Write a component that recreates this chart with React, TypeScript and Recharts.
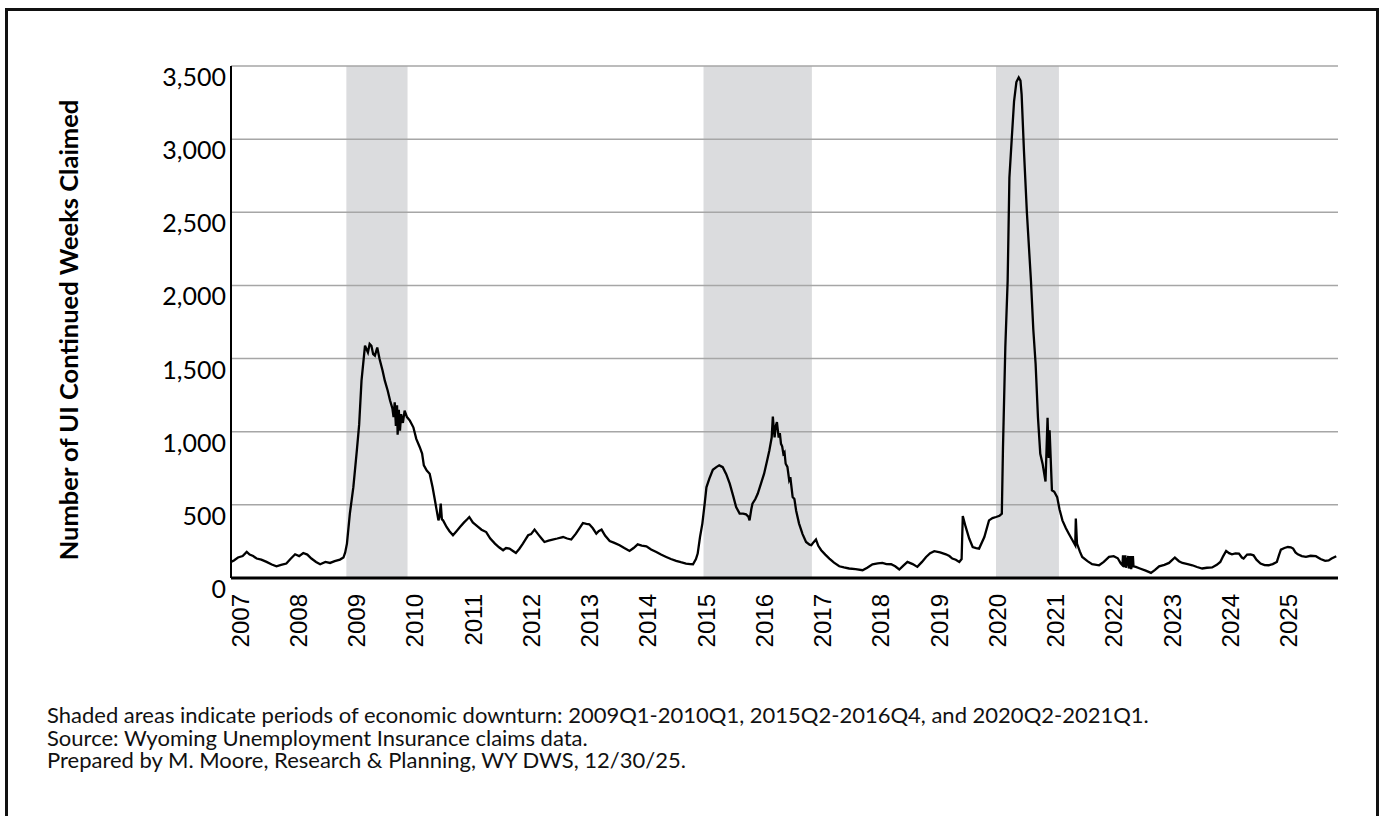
import React from "react";
import {
  LineChart,
  Line,
  XAxis,
  YAxis,
  ReferenceArea,
  ReferenceLine,
} from "recharts";

// [decimal year, continued weeks claimed]
const claims2007to2010: [number, number][] = [
  [2007.0, 110], [2007.05, 120], [2007.12, 140], [2007.2, 150], [2007.27, 178],
  [2007.32, 160], [2007.38, 150], [2007.44, 133], [2007.52, 125], [2007.61, 110],
  [2007.7, 92], [2007.78, 80], [2007.86, 90], [2007.95, 99], [2008.02, 130],
  [2008.1, 162], [2008.17, 150], [2008.24, 171], [2008.31, 160], [2008.38, 133],
  [2008.46, 110], [2008.53, 94], [2008.62, 110], [2008.7, 103], [2008.78, 115],
  [2008.87, 126], [2008.93, 140], [2008.96, 175], [2008.99, 235], [2009.04, 440],
  [2009.1, 621], [2009.16, 872], [2009.2, 1050], [2009.24, 1349], [2009.3, 1588],
  [2009.33, 1560], [2009.35, 1542], [2009.38, 1600], [2009.41, 1588], [2009.44, 1530],
  [2009.47, 1520], [2009.51, 1576], [2009.55, 1497], [2009.6, 1420], [2009.64, 1349],
  [2009.69, 1280], [2009.73, 1213], [2009.77, 1160], [2009.79, 1100], [2009.81, 1201],
  [2009.83, 1040], [2009.85, 1180], [2009.86, 980], [2009.88, 1150], [2009.9, 1008],
  [2009.92, 1120], [2009.95, 1060], [2009.98, 1144], [2010.02, 1100], [2010.07, 1076],
  [2010.13, 1030], [2010.18, 951], [2010.24, 894], [2010.28, 850], [2010.31, 770],
  [2010.36, 735], [2010.41, 713], [2010.46, 620], [2010.5, 531], [2010.54, 440],
  [2010.56, 394], [2010.58, 420], [2010.6, 508], [2010.62, 400], [2010.64, 394],
  [2010.7, 349], [2010.75, 320], [2010.81, 292], [2010.87, 320], [2010.93, 349],
];

const claims2011to2014: [number, number][] = [
  [2011.0, 380], [2011.05, 400], [2011.09, 417], [2011.15, 380], [2011.21, 360],
  [2011.3, 330], [2011.38, 314], [2011.45, 270], [2011.53, 235], [2011.6, 210],
  [2011.67, 190], [2011.72, 205], [2011.78, 201], [2011.84, 185], [2011.89, 171],
  [2011.95, 200], [2012.01, 235], [2012.05, 260], [2012.1, 292], [2012.15, 300],
  [2012.21, 331], [2012.28, 295], [2012.33, 270], [2012.38, 246], [2012.45, 255],
  [2012.52, 263], [2012.6, 270], [2012.7, 280], [2012.77, 270], [2012.84, 263],
  [2012.92, 303], [2012.98, 340], [2013.04, 376], [2013.1, 370], [2013.15, 367],
  [2013.21, 340], [2013.27, 303], [2013.31, 320], [2013.36, 331], [2013.42, 290],
  [2013.5, 253], [2013.58, 240], [2013.67, 224], [2013.75, 205], [2013.84, 185],
  [2013.91, 205], [2013.98, 230], [2014.05, 222], [2014.13, 217], [2014.21, 195],
  [2014.3, 178], [2014.38, 160], [2014.47, 144], [2014.55, 130], [2014.64, 117],
  [2014.72, 108], [2014.81, 99], [2014.88, 95], [2014.93, 94], [2014.98, 130],
];

const claims2015to2018: [number, number][] = [
  [2015.01, 167], [2015.05, 280], [2015.09, 372], [2015.13, 508], [2015.16, 620],
  [2015.21, 679], [2015.27, 740], [2015.33, 758], [2015.38, 770], [2015.44, 758],
  [2015.5, 710], [2015.56, 645], [2015.62, 560], [2015.67, 485], [2015.73, 440],
  [2015.79, 440], [2015.84, 435], [2015.88, 420], [2015.9, 394], [2015.93, 470],
  [2015.95, 508], [2016.0, 540], [2016.04, 576], [2016.1, 650], [2016.15, 713],
  [2016.2, 800], [2016.24, 872], [2016.28, 960], [2016.3, 1103], [2016.32, 1000],
  [2016.33, 962], [2016.35, 1040], [2016.37, 1065], [2016.4, 960], [2016.42, 990],
  [2016.44, 917], [2016.46, 900], [2016.48, 850], [2016.5, 860], [2016.52, 781],
  [2016.55, 760], [2016.58, 670], [2016.6, 690], [2016.64, 553], [2016.67, 540],
  [2016.7, 460], [2016.75, 372], [2016.81, 300], [2016.87, 246], [2016.93, 228],
  [2016.96, 224], [2017.0, 245], [2017.04, 263], [2017.08, 220], [2017.13, 190],
  [2017.2, 160], [2017.27, 133], [2017.35, 105], [2017.44, 80], [2017.52, 72],
  [2017.61, 65], [2017.72, 60], [2017.84, 53], [2017.92, 70], [2018.01, 94],
  [2018.1, 100], [2018.18, 103], [2018.25, 95], [2018.33, 94], [2018.4, 80],
  [2018.47, 58], [2018.54, 85], [2018.61, 110], [2018.7, 95], [2018.78, 76],
  [2018.86, 110], [2018.93, 144],
];

const claims2019to2021: [number, number][] = [
  [2019.0, 170], [2019.07, 183], [2019.17, 175], [2019.27, 162], [2019.33, 150],
  [2019.38, 133], [2019.44, 125], [2019.5, 110], [2019.54, 130], [2019.56, 424],
  [2019.61, 349], [2019.67, 270], [2019.73, 212], [2019.79, 205], [2019.84, 201],
  [2019.93, 280], [2020.01, 394], [2020.07, 410], [2020.13, 417], [2020.19, 425],
  [2020.23, 440], [2020.25, 894], [2020.29, 1576], [2020.33, 2031], [2020.36, 2736],
  [2020.4, 3000], [2020.44, 3259], [2020.48, 3390], [2020.52, 3422], [2020.55, 3400],
  [2020.57, 3304], [2020.61, 2918], [2020.66, 2500], [2020.73, 2031], [2020.77, 1700],
  [2020.81, 1463], [2020.85, 1100], [2020.89, 849], [2020.93, 780], [2020.98, 660],
  [2021.015, 1095], [2021.035, 820], [2021.05, 1010], [2021.09, 600], [2021.13, 590],
  [2021.18, 553], [2021.22, 470], [2021.27, 394], [2021.33, 340], [2021.38, 303],
  [2021.44, 260], [2021.49, 224], [2021.5, 406], [2021.52, 235], [2021.57, 180],
  [2021.61, 144], [2021.7, 115], [2021.78, 94], [2021.9, 87], [2021.98, 110],
];

const claims2022to2025: [number, number][] = [
  [2022.07, 144], [2022.15, 149], [2022.22, 135], [2022.27, 100], [2022.3, 87],
  [2022.31, 155], [2022.32, 75], [2022.35, 155], [2022.36, 70], [2022.4, 150],
  [2022.41, 65], [2022.44, 150], [2022.45, 60], [2022.48, 150], [2022.49, 80],
  [2022.53, 76], [2022.6, 65], [2022.7, 50], [2022.79, 35], [2022.86, 55],
  [2022.93, 80], [2023.02, 90], [2023.1, 103], [2023.2, 140], [2023.27, 115],
  [2023.33, 103], [2023.42, 95], [2023.5, 87], [2023.58, 75], [2023.67, 65],
  [2023.75, 70], [2023.84, 72], [2023.92, 90], [2023.98, 110], [2024.03, 150],
  [2024.08, 185], [2024.13, 170], [2024.18, 162], [2024.24, 168], [2024.3, 167],
  [2024.35, 140], [2024.38, 133], [2024.44, 160], [2024.5, 162], [2024.55, 155],
  [2024.6, 125], [2024.67, 99], [2024.74, 88], [2024.81, 87], [2024.88, 95],
  [2024.95, 110], [2024.99, 160], [2025.02, 194], [2025.08, 205], [2025.14, 212],
  [2025.19, 210], [2025.23, 201], [2025.27, 175], [2025.31, 162], [2025.38, 150],
  [2025.45, 144], [2025.53, 152], [2025.62, 149], [2025.7, 130], [2025.78, 117],
  [2025.84, 120], [2025.89, 133], [2025.97, 149],
];

// economic downturn shading (start, end) in decimal years
const downturns: [number, number][] = [
  [2008.98, 2010.03],
  [2015.11, 2016.97],
  [2020.13, 2021.21],
];

const yearTicks = [
  2007, 2008, 2009, 2010, 2011, 2012, 2013, 2014, 2015, 2016, 2017, 2018, 2019,
  2020, 2021, 2022, 2023, 2024, 2025,
];
const valueTicks = [0, 500, 1000, 1500, 2000, 2500, 3000, 3500];

const footnotes = [
  "Shaded areas indicate periods of economic downturn: 2009Q1-2010Q1, 2015Q2-2016Q4, and 2020Q2-2021Q1.",
  "Source: Wyoming Unemployment Insurance claims data.",
  "Prepared by M. Moore, Research & Planning, WY DWS, 12/30/25.",
];

const data = [
  ...claims2007to2010,
  ...claims2011to2014,
  ...claims2015to2018,
  ...claims2019to2021,
  ...claims2022to2025,
].map(([t, v]) => ({ t, v }));

const YearTick = (props: any) => {
  const { x, y, payload } = props;
  const cx = x + 9;
  const cy = y + 8;
  return (
    <text
      x={cx}
      y={cy}
      transform={`rotate(-90 ${cx} ${cy})`}
      textAnchor="end"
      dominantBaseline="central"
      fontFamily="'Liberation Sans', Arial, sans-serif"
      fontSize={24}
      fill="#000"
    >
      {payload.value}
    </text>
  );
};

const ValueTick = (props: any) => {
  const { x, y, payload } = props;
  return (
    <text
      x={x + 3}
      y={y + 10}
      textAnchor="end"
      dominantBaseline="central"
      fontFamily="Lato, sans-serif"
      fontSize={25}
      fill="#000"
    >
      {payload.value.toLocaleString("en-US")}
    </text>
  );
};

export default function App(): React.ReactElement {
  return (
    <div
      style={{
        position: "relative",
        width: 1380,
        height: 816,
        overflow: "hidden",
        background: "#fff",
      }}
    >
      <style>{"html,body{margin:0;padding:0;overflow:hidden;}"}</style>
      <div style={{ position: "absolute", left: 0, top: 0 }}>
        <LineChart
          width={1380}
          height={816}
          data={data}
          margin={{ top: 66, right: 42, left: 131, bottom: 158 }}
        >
          {downturns.map(([a, b]) => (
            <ReferenceArea
              key={a}
              x1={a}
              x2={b}
              y1={0}
              y2={3500}
              fill="#dbdcde"
              fillOpacity={1}
              stroke="none"
            />
          ))}
          {valueTicks.slice(1).map((v) => (
            <ReferenceLine key={v} y={v} stroke="#a6a6a6" strokeWidth={1.5} />
          ))}
          <XAxis
            dataKey="t"
            type="number"
            domain={[2007, 2026]}
            ticks={yearTicks}
            tick={<YearTick />}
            tickLine={false}
            axisLine={{ stroke: "#000", strokeWidth: 3 }}
            interval={0}
            height={80}
            allowDataOverflow
          />
          <YAxis
            domain={[0, 3500]}
            ticks={valueTicks}
            tick={<ValueTick />}
            tickLine={false}
            axisLine={{ stroke: "#000", strokeWidth: 2 }}
            width={100}
            interval={0}
          />
          <Line
            type="linear"
            dataKey="v"
            stroke="#000"
            strokeWidth={2.3}
            dot={false}
            isAnimationActive={false}
          />
        </LineChart>
      </div>
      <div
        style={{
          position: "absolute",
          left: 68,
          top: 330,
          transform: "translate(-50%, -50%) rotate(-90deg)",
          whiteSpace: "nowrap",
          fontFamily: "Lato, sans-serif",
          fontWeight: 700,
          fontSize: 25.5,
          color: "#000",
        }}
      >
        Number of UI Continued Weeks Claimed
      </div>
      {footnotes.map((f, i) => (
        <div
          key={f}
          style={{
            position: "absolute",
            left: 47,
            top: 704 + i * 22.5,
            fontFamily: "Lato, sans-serif",
            fontSize: 22,
            lineHeight: "22px",
            whiteSpace: "nowrap",
            color: "#111",
          }}
        >
          {f}
        </div>
      ))}
      <div style={{ position: "absolute", left: 5, top: 8, width: 1374, height: 3, background: "#111" }} />
      <div style={{ position: "absolute", left: 5, top: 8, width: 3, height: 808, background: "#111" }} />
      <div style={{ position: "absolute", left: 1376, top: 8, width: 3, height: 808, background: "#111" }} />
    </div>
  );
}
